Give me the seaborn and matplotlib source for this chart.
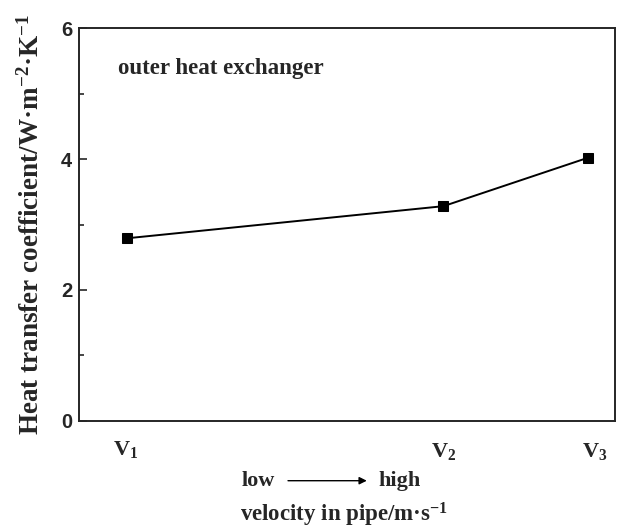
import matplotlib
matplotlib.use('Agg')
import matplotlib.pyplot as plt
import matplotlib.transforms as mtransforms
import numpy as np
import pandas as pd
import seaborn as sns

# relative velocity position of each case along the axis, and coefficient
velocity = [0.9, 6.8, 9.5]
coefficient = [2.79, 3.28, 4.02]
case_labels = ['V$_1$', 'V$_2$', 'V$_3$']
yticks = [0, 2, 4, 6]

data = pd.DataFrame({'velocity': velocity, 'coefficient': coefficient})

sns.set_style('ticks')
plt.rcParams['font.family'] = ['Liberation Serif', 'DejaVu Serif']
plt.rcParams['mathtext.fontset'] = 'custom'
plt.rcParams['mathtext.rm'] = 'Liberation Serif:bold'
plt.rcParams['mathtext.it'] = 'Liberation Serif:bold'
plt.rcParams['mathtext.bf'] = 'Liberation Serif:bold'
plt.rcParams['mathtext.default'] = 'rm'

fig = plt.figure(figsize=(6.23, 5.29), dpi=100)
ax = fig.add_axes([0.1268, 0.2042, 0.8602, 0.7428])

sns.lineplot(data=data, x='velocity', y='coefficient', ax=ax,
             color='black', linewidth=1.4, marker='s', markersize=6.5,
             markeredgecolor='black', markerfacecolor='black')

ax.set_xlim(0, 10)
ax.set_ylim(0, 6)
ax.set_yticks(yticks)
ax.set_yticks([1, 3, 5], minor=True)
ax.set_yticklabels([str(t) for t in yticks], family='Liberation Sans',
                   fontweight='bold', fontsize=14.5)
ax.tick_params(axis='y', which='major', direction='in', length=6, width=1.2, pad=5)
ax.tick_params(axis='y', which='minor', direction='in', length=3.5, width=1.2)
ax.set_xticks([])
for sp in ax.spines.values():
    sp.set_linewidth(1.4)
    sp.set_visible(True)

ax.set_xlabel('')
ax.set_ylabel('Heat transfer coefficient/W·m$^{-2}$·K$^{-1}$',
              fontsize=19.5, fontweight='bold', labelpad=12)

ax.text(0.073, 0.898, 'outer heat exchanger', transform=ax.transAxes,
        fontsize=16.5, fontweight='bold', ha='left', va='center')

# case labels under each point, nudged in points
trans = mtransforms.blended_transform_factory(ax.transData, ax.transAxes)
nudges = [(-1.5, -24.5), (0, -26), (4.5, -26)]
for xv, lab, (dx, dy) in zip(velocity, case_labels, nudges):
    ax.annotate(lab, xy=(xv, 0), xycoords=trans, xytext=(dx, dy),
                textcoords='offset points', fontsize=16, fontweight='bold',
                ha='center', va='baseline', annotation_clip=False)

ax.text(0.334, -0.165, 'low', transform=ax.transAxes, fontsize=16,
        fontweight='bold', ha='center', va='baseline')
ax.annotate('', xy=(0.537, -0.152), xytext=(0.390, -0.152),
            xycoords='axes fraction',
            arrowprops=dict(arrowstyle='-|>', color='black', lw=1.0,
                            mutation_scale=11, shrinkA=0, shrinkB=0))
ax.text(0.599, -0.165, 'high', transform=ax.transAxes, fontsize=16,
        fontweight='bold', ha='center', va='baseline')
ax.text(0.494, -0.255, 'velocity in pipe/m·s$^{-1}$', transform=ax.transAxes,
        fontsize=16.5, fontweight='bold', ha='center', va='baseline')

fig.savefig('out.png', dpi=100)
